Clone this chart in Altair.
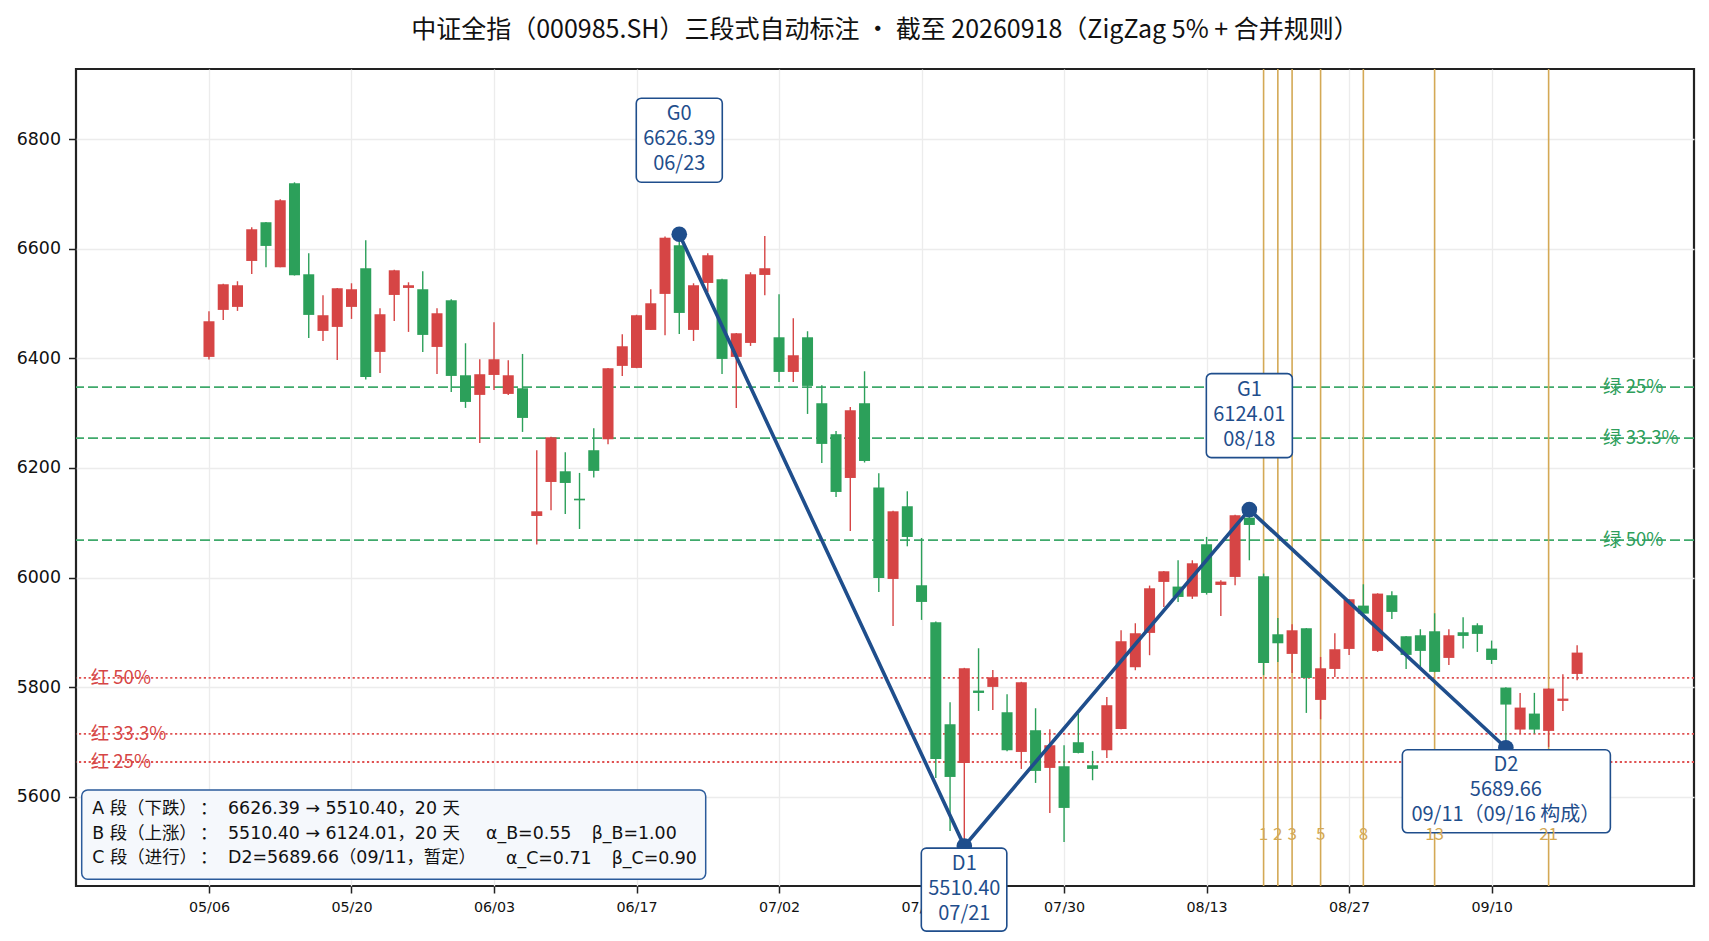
import json
import altair as alt
import pandas as pd

# ---------------- data ----------------
dates = ["05/06","05/07","05/08","05/11","05/12","05/13","05/14","05/15","05/18","05/19",
         "05/20","05/21","05/22","05/25","05/26","05/27","05/28","05/29","06/01","06/02",
         "06/03","06/04","06/05","06/08","06/09","06/10","06/11","06/12","06/15","06/16",
         "06/17","06/18","06/22","06/23","06/24","06/25","06/26","06/29","06/30","07/01",
         "07/02","07/03","07/06","07/07","07/08","07/09","07/10","07/13","07/14","07/15",
         "07/16","07/17","07/20","07/21","07/22","07/23","07/24","07/27","07/28","07/29",
         "07/30","07/31","08/03","08/04","08/05","08/06","08/07","08/10","08/11","08/12",
         "08/13","08/14","08/17","08/18","08/19","08/20","08/21","08/24","08/25","08/26",
         "08/27","08/28","08/31","09/01","09/02","09/03","09/04","09/07","09/08","09/09",
         "09/10","09/11","09/14","09/15","09/16","09/17","09/18"]

opens = [6402.6, 6488.3, 6493.8, 6577.6, 6648.2, 6566.1, 6719.3, 6553.3, 6450.0, 6457.3,
         6493.8, 6564.3, 6411.7, 6515.6, 6528.4, 6526.0, 6420.8, 6505.9, 6369.1, 6333.3,
         6369.7, 6335.1, 6345.4, 6112.5, 6174.5, 6194.0, 6144.0, 6232.4, 6252.4, 6386.2,
         6382.5, 6451.8, 6517.5, 6606.2, 6451.8, 6537.5, 6544.2, 6402.6, 6428.1, 6552.1,
         6438.4, 6375.2, 6438.4, 6318.1, 6261.6, 6181.8, 6318.1, 6164.2, 5997.6, 6130.2,
         5986.1, 5918.6, 5732.6, 5662.1, 5794.0, 5800.7, 5754.5, 5682.1, 5721.7, 5653.0,
         5656.0, 5699.8, 5657.8, 5685.2, 5724.1, 5836.6, 5899.2, 5992.2, 5983.7, 5965.4,
         6060.9, 5986.7, 6001.3, 6109.5, 6002.5, 5896.7, 5860.9, 5907.7, 5777.0, 5833.5,
         5870.0, 5949.0, 5866.4, 5967.9, 5893.1, 5894.9, 5902.2, 5853.6, 5900.4, 5913.2,
         5870.6, 5799.5, 5722.9, 5752.1, 5720.5, 5775.2, 5824.4]

closes = [6467.6, 6535.1, 6533.3, 6635.4, 6605.0, 6688.3, 6551.5, 6479.2, 6478.6, 6527.8,
          6526.0, 6366.1, 6480.4, 6560.6, 6533.3, 6442.7, 6482.2, 6367.9, 6320.5, 6371.0,
          6398.3, 6369.1, 6291.3, 6121.0, 6256.0, 6172.7, 6141.0, 6194.7, 6381.9, 6422.0,
          6478.6, 6500.4, 6620.0, 6482.8, 6533.3, 6588.0, 6398.9, 6445.7, 6553.3, 6564.3,
          6375.2, 6405.6, 6349.7, 6243.9, 6156.3, 6305.3, 6212.8, 5999.5, 6121.0, 6074.2,
          5955.7, 5669.4, 5636.5, 5834.7, 5789.7, 5818.3, 5685.2, 5809.2, 5647.5, 5694.3,
          5580.0, 5680.3, 5651.2, 5767.3, 5884.0, 5898.6, 5980.6, 6011.6, 5964.8, 6026.2,
          5972.1, 5992.8, 6113.8, 6096.1, 5844.5, 5880.3, 5904.0, 5817.1, 5834.7, 5869.4,
          5960.6, 5934.4, 5970.9, 5937.5, 5859.1, 5866.4, 5828.1, 5894.9, 5893.7, 5897.4,
          5849.9, 5768.5, 5763.0, 5722.9, 5797.7, 5779.4, 5863.3]

highs = [6486.0, 6536.0, 6540.6, 6639.0, 6648.5, 6690.0, 6721.0, 6591.6, 6515.0, 6528.5,
         6536.9, 6615.3, 6491.3, 6561.5, 6538.7, 6558.8, 6491.3, 6507.7, 6427.5, 6398.3,
         6465.8, 6396.5, 6408.0, 6232.3, 6257.0, 6228.6, 6191.0, 6272.5, 6382.5, 6443.9,
         6479.5, 6526.0, 6622.0, 6626.39, 6536.9, 6591.6, 6545.0, 6446.0, 6557.0, 6623.2,
         6516.8, 6473.1, 6449.4, 6350.9, 6267.6, 6311.4, 6376.4, 6190.3, 6122.0, 6157.5,
         6072.4, 5920.0, 5772.7, 5835.5, 5871.2, 5831.7, 5787.3, 5810.0, 5761.8, 5723.5,
         5694.3, 5752.1, 5684.0, 5782.5, 5904.0, 5916.8, 5985.5, 6012.0, 6031.7, 6031.7,
         6074.3, 5995.2, 6114.5, 6124.01, 6007.4, 5926.5, 5915.0, 5908.0, 5855.4, 5898.6,
         5961.0, 5987.9, 5971.5, 5975.2, 5893.5, 5905.9, 5935.0, 5905.9, 5927.8, 5916.8,
         5885.2, 5800.0, 5789.8, 5789.8, 5798.0, 5823.8, 5876.7]

lows = [6398.0, 6470.0, 6486.5, 6553.9, 6566.0, 6566.0, 6551.0, 6437.2, 6431.7, 6397.1,
        6471.9, 6361.2, 6373.4, 6468.2, 6448.2, 6411.7, 6371.6, 6338.7, 6309.6, 6245.7,
        6342.4, 6333.3, 6265.8, 6060.3, 6122.9, 6116.2, 6088.8, 6182.5, 6243.3, 6367.9,
        6382.0, 6451.5, 6442.1, 6444.5, 6431.7, 6521.1, 6371.6, 6309.6, 6422.6, 6515.0,
        6357.0, 6357.0, 6298.6, 6209.3, 6147.2, 6085.2, 6210.0, 5973.9, 5911.9, 6057.2,
        5922.9, 5634.7, 5538.1, 5510.4, 5756.9, 5758.7, 5683.4, 5651.1, 5625.6, 5570.9,
        5518.0, 5679.5, 5630.5, 5671.2, 5723.5, 5831.1, 5858.5, 5946.6, 5955.7, 5961.2,
        5969.1, 5930.2, 5986.1, 6031.7, 5822.0, 5846.3, 5826.2, 5753.3, 5741.7, 5818.9,
        5859.1, 5934.0, 5864.5, 5924.7, 5833.5, 5837.2, 5827.5, 5840.8, 5870.6, 5864.5,
        5842.6, 5689.66, 5715.6, 5715.6, 5691.3, 5756.9, 5812.9]

pivot_names = ["G0", "D1", "G1", "D2"]
pivot_idx = [33, 53, 73, 91]
pivot_vals = [6626.39, 5510.40, 6124.01, 5689.66]
pivot_kind = ["G", "D1", "G", "D2"]
pivot_extra = ["", "", "", "（09/16 构成）"]

fib_nums = [1, 2, 3, 5, 8, 13, 21]
green_pcts = [0.25, 1 / 3, 0.5]
green_names = ["绿 25%", "绿 33.3%", "绿 50%"]
red_pcts = [0.5, 1 / 3, 0.25]
red_names = ["红 50%", "红 33.3%", "红 25%"]

seg_prefixes = ["A 段（下跌）", "B 段（上涨）", "C 段（进行）"]

xtick_idx = [0, 10, 20, 30, 40, 50, 60, 70, 80, 90]
ytick_vals = [5600, 5800, 6000, 6200, 6400, 6600, 6800]

title_text = "中证全指（000985.SH）三段式自动标注 · 截至 20260918（ZigZag 5% + 合并规则）"

# ---------------- styling ----------------
RED = "#d64545"
GREEN = "#2ca05a"
BLUE = "#1f4e8c"
GOLD = "#d4a955"
CJK = "Noto Sans CJK SC"
LATIN = "DejaVu Sans, Noto Sans CJK SC"

n = len(dates)
assert all(len(a) == n for a in (opens, closes, highs, lows))

cdf = pd.DataFrame({"idx": list(range(n)), "date": dates, "open": opens,
                    "high": highs, "low": lows, "close": closes})
cdf["dir"] = ["up" if c >= o else "down" for o, c in zip(opens, closes)]

g0, d1, g1, d2 = pivot_vals
i_g0, i_d1, i_g1, i_d2 = pivot_idx
A = g0 - d1
B = g1 - d1
green_levels = [g0 - p * A for p in green_pcts]
red_levels = [d1 + p * B for p in red_pcts]

pdf = pd.DataFrame({
    "idx": pivot_idx, "val": pivot_vals, "kind": pivot_kind,
    "label": [f"{nm}\n{v:.2f}\n{dates[i]}{ex}" for nm, v, i, ex in
              zip(pivot_names, pivot_vals, pivot_idx, pivot_extra)],
})

gdf = pd.DataFrame({"level": green_levels, "label": green_names})
rdf = pd.DataFrame({"level": red_levels, "label": red_names})
fdf = pd.DataFrame({"fidx": [i_g1 + k for k in fib_nums], "num": [str(k) for k in fib_nums]})

a_days = i_d1 - i_g0
b_days = i_g1 - i_d1
c_days = i_d2 - i_g1
alpha_b = B / A
beta_b = b_days / a_days
alpha_c = (g1 - d2) / B
beta_c = c_days / b_days
info_main = [
    f"{g0:.2f} → {d1:.2f}，{a_days} 天",
    f"{d1:.2f} → {g1:.2f}，{b_days} 天",
    f"D2={d2:.2f}（{dates[i_d2]}，暂定）",
]
one = pd.DataFrame({"k": [0]})
pre_df = pd.DataFrame({"t": ["\n".join(seg_prefixes)]})
colon_df = pd.DataFrame({"t": ["\n".join(["："] * 3)]})
main_df = pd.DataFrame({"t": ["\n".join(info_main)]})
ab_df = pd.DataFrame({"t": [f"α_B={alpha_b:.2f}"]})
bb_df = pd.DataFrame({"t": [f"β_B={beta_b:.2f}"]})
ac_df = pd.DataFrame({"t": [f"α_C={alpha_c:.2f}"]})
bc_df = pd.DataFrame({"t": [f"β_C={beta_c:.2f}"]})

# ---------------- scales / axes ----------------
xscale = alt.Scale(domain=[-8.98, 103.85], nice=False, zero=False)
yscale = alt.Scale(domain=[5437.6, 6927.7], nice=False, zero=False)
label_js = json.dumps(dates, ensure_ascii=False)
xaxis = alt.Axis(values=xtick_idx, labelExpr=f"{label_js}[datum.value]", title=None,
                 labelFont="DejaVu Sans", labelFontSize=14.3, labelColor="#111",
                 tickSize=7, tickWidth=1.5, tickColor="#222", domain=False,
                 grid=True, gridColor="#ececec", gridWidth=1.3, labelPadding=7,
                 labelFlush=False, labelOverlap=False)
yaxis = alt.Axis(values=ytick_vals, format="d", title=None, labelFont="DejaVu Sans",
                 labelFontSize=17.4, labelColor="#111", tickSize=7.5, tickWidth=1.5,
                 tickColor="#222", domain=False, grid=True, gridColor="#ececec",
                 gridWidth=1.3, labelPadding=8, labelFlush=False, labelOverlap=False)


def X(field):
    return alt.X(f"{field}:Q", scale=xscale, axis=xaxis)


def Y(field):
    return alt.Y(f"{field}:Q", scale=yscale, axis=yaxis)


color = alt.Color("dir:N", scale=alt.Scale(domain=["up", "down"], range=[RED, GREEN]), legend=None)

# ---------------- layers ----------------
green_rules = alt.Chart(gdf).mark_rule(color="#3fa96b", strokeWidth=1.6, strokeDash=[10, 4]).encode(y=Y("level"))
red_rules = alt.Chart(rdf).mark_rule(color="#e05252", strokeWidth=1.8, strokeDash=[2.2, 2.6]).encode(y=Y("level"))
fib_rules = alt.Chart(fdf).mark_rule(color=GOLD, strokeWidth=1.6).encode(x=X("fidx"))

wicks = alt.Chart(cdf).mark_rule(strokeWidth=1.4).encode(x=X("idx"), y=Y("low"), y2="high", color=color)
bodies = alt.Chart(cdf).mark_bar(size=11, orient="vertical").encode(x=X("idx"), y=Y("open"), y2="close", color=color)

green_lbl = alt.Chart(gdf).mark_text(align="left", baseline="middle", font=CJK, fontSize=18.5,
                                     color="#2e9e5b").encode(x=alt.value(1527), y=Y("level"), text="label:N")
red_lbl = alt.Chart(rdf).mark_text(align="left", baseline="middle", font=CJK, fontSize=18.5,
                                   color=RED).encode(x=alt.value(14.7), y=Y("level"), text="label:N")

zig = alt.Chart(pdf).mark_line(color=BLUE, strokeWidth=3.6).encode(x=X("idx"), y=Y("val"), order="idx:Q")
dots = alt.Chart(pdf).mark_circle(color=BLUE, size=245, opacity=1).encode(x=X("idx"), y=Y("val"))

box_style = dict(fill="white", stroke=BLUE, strokeWidth=1.6, cornerRadius=5)
box_g = alt.Chart(pdf).transform_filter("datum.kind == 'G'").mark_rect(
    xOffset=-43, x2Offset=43, yOffset=-136, y2Offset=-52, **box_style
).encode(x=X("idx"), x2="idx", y=Y("val"), y2="val")
box_d1 = alt.Chart(pdf).transform_filter("datum.kind == 'D1'").mark_rect(
    xOffset=-43, x2Offset=42.5, yOffset=2, y2Offset=85, **box_style
).encode(x=X("idx"), x2="idx", y=Y("val"), y2="val")
box_d2 = alt.Chart(pdf).transform_filter("datum.kind == 'D2'").mark_rect(
    xOffset=-103.5, x2Offset=104.5, yOffset=2, y2Offset=85, **box_style
).encode(x=X("idx"), x2="idx", y=Y("val"), y2="val")

# first line sits at y + dy (multi-line text grows downward)
txt_style = dict(font=CJK, fontSize=20, color=BLUE, align="center", baseline="middle",
                 lineBreak="\n", lineHeight=25)
txt_g = alt.Chart(pdf).transform_filter("datum.kind == 'G'").mark_text(dy=-120, **txt_style).encode(
    x=X("idx"), y=Y("val"), text="label:N")
txt_d = alt.Chart(pdf).transform_filter("datum.kind != 'G'").mark_text(dy=17.5, **txt_style).encode(
    x=X("idx"), y=Y("val"), text="label:N")

fib_lbl = alt.Chart(fdf).mark_text(font=CJK, fontSize=17, color=GOLD, baseline="middle").encode(
    x=X("fidx"), y=alt.value(766), text="num:N")

info_box = alt.Chart(one).mark_rect(fill="#f5f8fc", stroke="#2b5b9b", strokeWidth=1.5, cornerRadius=6).encode(
    x=alt.value(5.7), x2=alt.value(629.7), y=alt.value(721), y2=alt.value(810.3))

info_style = dict(align="left", baseline="middle", font=LATIN, fontSize=17.4,
                  lineBreak="\n", lineHeight=24.6, color="#111")
info_pre = alt.Chart(pre_df).mark_text(**info_style).encode(
    x=alt.value(16.3), y=alt.value(740.3), text="t:N")
info_colon = alt.Chart(colon_df).mark_text(**info_style).encode(
    x=alt.value(124), y=alt.value(740.3), text="t:N")
info_main_t = alt.Chart(main_df).mark_text(**info_style).encode(
    x=alt.value(152), y=alt.value(740.3), text="t:N")
info_ab = alt.Chart(ab_df).mark_text(**info_style).encode(x=alt.value(410), y=alt.value(764.9), text="t:N")
info_bb = alt.Chart(bb_df).mark_text(**info_style).encode(x=alt.value(515.7), y=alt.value(764.9), text="t:N")
info_ac = alt.Chart(ac_df).mark_text(**info_style).encode(x=alt.value(430), y=alt.value(789.5), text="t:N")
info_bc = alt.Chart(bc_df).mark_text(**info_style).encode(x=alt.value(535.7), y=alt.value(789.5), text="t:N")

chart = alt.layer(
    green_rules, red_rules, fib_rules, wicks, bodies, green_lbl, red_lbl,
    zig, dots, box_g, box_d1, box_d2, txt_g, txt_d, fib_lbl, info_box,
    info_pre, info_colon, info_main_t, info_ab, info_bb, info_ac, info_bc
).properties(
    width=1618, height=817,
    padding={"left": 68, "top": 61, "right": 6, "bottom": 46},
    autosize=alt.AutoSizeParams(type="none"),
    title=alt.TitleParams(text=title_text, font=CJK, fontSize=25, fontWeight="normal",
                          color="#111", anchor="middle", frame="group", offset=25),
    background="white",
).configure_view(stroke="#222", strokeWidth=2.2)

chart.save("out.html", embed_options={"renderer": "svg", "actions": False})
